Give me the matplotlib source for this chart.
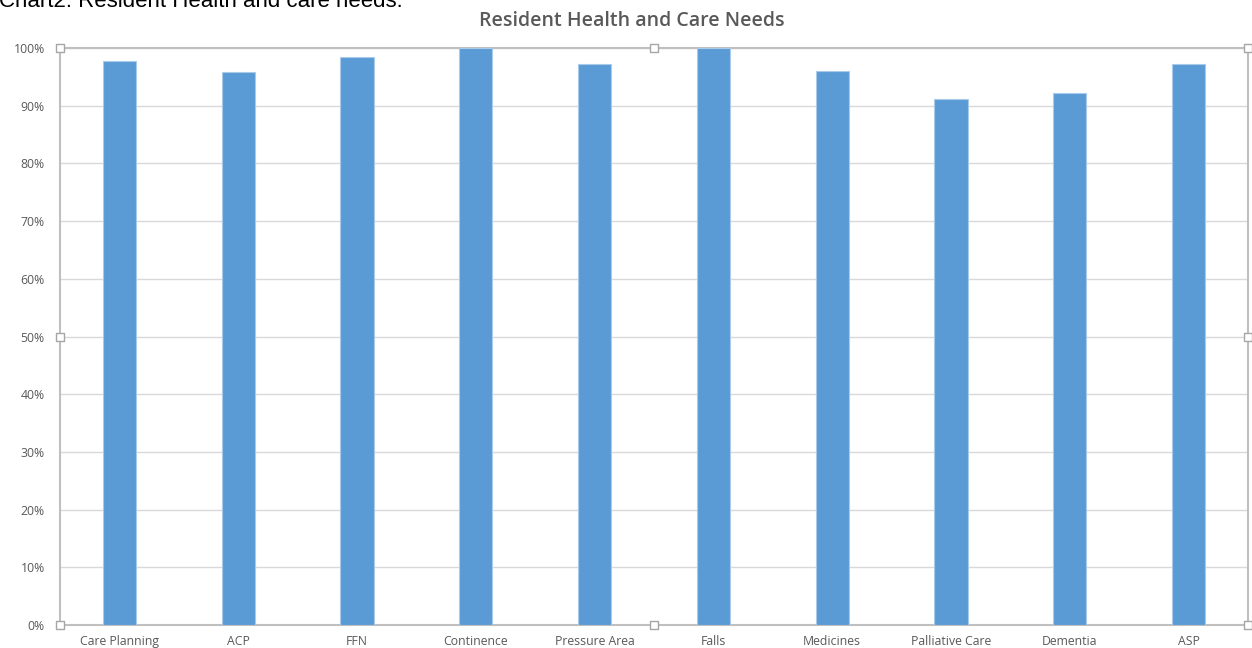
import numpy as np
import matplotlib.pyplot as plt
from matplotlib.ticker import PercentFormatter

# Audit results by area (percent compliant)
categories = ['Care Planning', 'ACP', 'FFN', 'Continence', 'Pressure Area',
              'Falls', 'Medicines', 'Palliative Care', 'Dementia', 'ASP']
scores = [97.7, 95.9, 98.4, 100.0, 97.2, 100.0, 96.1, 91.1, 92.2, 97.2]
y_ticks = list(range(0, 101, 10))

bar_color = '#5b9bd5'
grid_color = '#d9d9d9'
frame_color = '#bfbfbf'
text_color = '#595959'

W, H = 1252, 648
fig = plt.figure(figsize=(W / 100, H / 100), dpi=100)
ax = fig.add_axes([60 / W, 1 - 625 / H, (1248 - 60) / W, (625 - 48) / H])

x = np.arange(len(categories))
ax.bar(x, scores, width=0.28, color=bar_color, edgecolor='#a9cbe9',
       linewidth=0.8, zorder=3)

ax.set_xlim(-0.5, len(categories) - 0.5)
ax.set_ylim(0, 100)
ax.set_yticks(y_ticks)
ax.yaxis.set_major_formatter(PercentFormatter(decimals=0))
ax.set_xticks(x)
ax.set_xticklabels(categories)
ax.tick_params(length=0, labelsize=8.8, labelcolor=text_color)
ax.tick_params(axis='y', pad=11)
ax.tick_params(axis='x', pad=7)
for lab in ax.get_xticklabels() + ax.get_yticklabels():
    lab.set_fontfamily('Open Sans')

ax.grid(axis='y', color=grid_color, linewidth=1, zorder=0)
for side in ax.spines.values():
    side.set_color(frame_color)
    side.set_linewidth(1.5)

# selection handles on the chart frame
hx = [0, 0.5, 1, 0, 1, 0, 0.5, 1]
hy = [0, 0, 0, 0.5, 0.5, 1, 1, 1]
ax.scatter(hx, hy, s=30, marker='s', facecolor='white', edgecolor='#a6a6a6',
           linewidth=1, transform=ax.transAxes, clip_on=False, zorder=5)

fig.text(632 / W, 1 - 26 / H, 'Resident Health and Care Needs', fontsize=14,
         color=text_color, fontfamily='Open Sans', fontweight='semibold',
         ha='center', va='baseline')

fig.text(-1 / W, 1 - 7 / H, 'Chart2: Resident Health and care needs.',
         fontsize=16, fontfamily='Liberation Sans', color='black',
         va='baseline', ha='left')

fig.savefig('out.png', dpi=100)
